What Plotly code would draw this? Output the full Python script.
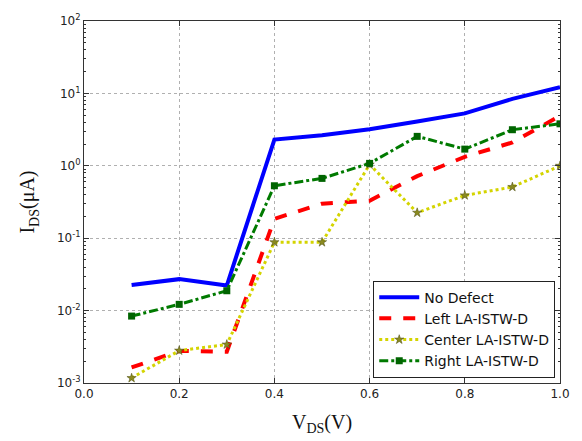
import plotly.graph_objects as go

vds = [0.1, 0.2, 0.3, 0.4, 0.5, 0.6, 0.7, 0.8, 0.9, 1.0]
no_defect = [0.0226, 0.0272, 0.0222, 2.3, 2.65, 3.2, 4.1, 5.3, 8.4, 12.2]
left_d = [0.00164, 0.00277, 0.0027, 0.185, 0.30, 0.33, 0.72, 1.33, 2.1, 4.9]
center_d = [0.00117, 0.0028, 0.0034, 0.088, 0.088, 1.04, 0.225, 0.39, 0.51, 1.0]
right_d = [0.0084, 0.0122, 0.0188, 0.53, 0.67, 1.08, 2.55, 1.70, 3.15, 3.8]

x_ticks = [0.0, 0.2, 0.4, 0.6, 0.8, 1.0]
x_ticktext = ["0.0", "0.2", "0.4", "0.6", "0.8", "1.0"]
y_ticks = [1e-3, 1e-2, 1e-1, 1e0, 1e1, 1e2]
y_ticktext = ["10<sup>-3</sup>", "10<sup>-2</sup>", "10<sup>-1</sup>",
              "10<sup>0</sup>", "10<sup>1</sup>", "10<sup>2</sup>"]
minor_y = [m * 10 ** e for e in range(-3, 2) for m in range(2, 10)]

fig = go.Figure()
fig.add_trace(go.Scatter(x=vds, y=no_defect, mode="lines", name="No Defect",
                         line=dict(color="#0000ff", width=4)))
fig.add_trace(go.Scatter(x=vds, y=left_d, mode="lines", name="Left LA-ISTW-D",
                         line=dict(color="#ff0000", width=4, dash="dash")))
fig.add_trace(go.Scatter(x=vds, y=center_d, mode="lines+markers", name="Center LA-ISTW-D",
                         line=dict(color="#d4d400", width=3, dash="dot"),
                         marker=dict(symbol="star", size=7, color="#8a8a20",
                                     line=dict(color="#4a4a10", width=0.5))))
fig.add_trace(go.Scatter(x=vds, y=right_d, mode="lines+markers", name="Right LA-ISTW-D",
                         line=dict(color="#007a00", width=3, dash="dashdot"),
                         marker=dict(symbol="square", size=7, color="#006400")))

axis_font = dict(family="DejaVu Sans", size=12, color="#222")
fig.update_layout(
    width=582, height=441,
    margin=dict(l=84, r=20, t=13, b=51),
    paper_bgcolor="white", plot_bgcolor="white",
    showlegend=True,
    legend=dict(x=0.99, y=0.015, xanchor="right", yanchor="bottom",
                bgcolor="white", bordercolor="#222", borderwidth=1,
                font=dict(family="DejaVu Sans", size=14, color="#111"),
                tracegroupgap=0, itemwidth=40),
    font=axis_font,
)
fig.update_xaxes(
    range=[0, 1], tickvals=x_ticks, ticktext=x_ticktext,
    showline=True, linecolor="#333", linewidth=1, mirror="allticks",
    ticks="inside", ticklen=5, tickcolor="#333",
    showgrid=True, gridcolor="#b0b0b0", griddash="dot", gridwidth=1,
    zeroline=False, tickfont=axis_font,
    title=dict(text="V<sub>DS</sub>(V)", font=dict(family="Liberation Serif", size=20, color="#111"),
               standoff=14),
)
fig.update_yaxes(
    type="log", range=[-3, 2], tickvals=y_ticks, ticktext=y_ticktext,
    showline=True, linecolor="#333", linewidth=1, mirror="allticks",
    ticks="inside", ticklen=5, tickcolor="#333",
    minor=dict(tickvals=minor_y, ticks="inside", ticklen=2, tickcolor="#333", showgrid=False),
    showgrid=True, gridcolor="#b0b0b0", griddash="dot", gridwidth=1,
    zeroline=False, tickfont=axis_font,
    title=dict(text="I<sub>DS</sub>(μA)", font=dict(family="Liberation Serif", size=20, color="#111"),
               standoff=16),
)
fig.write_html("out.html")
